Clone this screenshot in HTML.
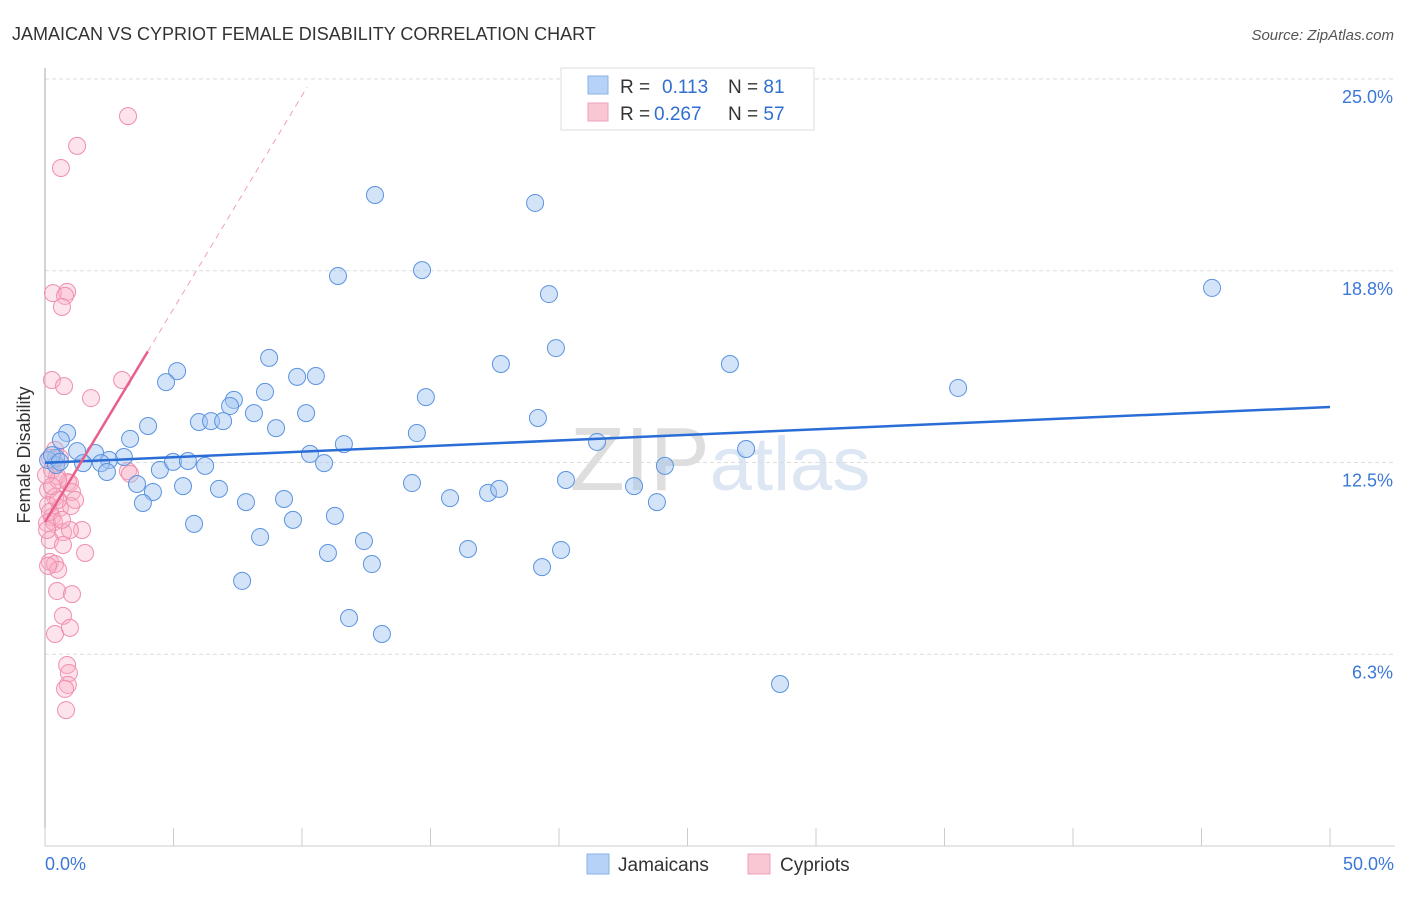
<!DOCTYPE html>
<html><head><meta charset="utf-8"><style>
body{margin:0;background:#fff;font-family:"Liberation Sans",sans-serif;}
svg text{font-family:"Liberation Sans",sans-serif;}
</style></head><body>
<svg width="1406" height="892" viewBox="0 0 1406 892" id="chart">
<text x="12" y="40" font-size="18" fill="#333">JAMAICAN VS CYPRIOT FEMALE DISABILITY CORRELATION CHART</text>
<text x="1394" y="40" font-size="15" fill="#555" font-style="italic" text-anchor="end">Source: ZipAtlas.com</text>
<text x="720" y="490" font-size="90" fill="#e4e4e4" text-anchor="middle" font-family="Liberation Serif"><tspan fill="#dedede">ZIP</tspan><tspan fill="#dde6f3" font-family="Liberation Sans" font-size="76">atlas</tspan></text>
<g id="grid"></g>
<line x1="45" y1="68" x2="45" y2="846" stroke="#aaa"/>
<line x1="45" y1="846" x2="1395" y2="846" stroke="#ccc"/>
<g id="xticks"></g>
<text x="30" y="455" font-size="18" fill="#333" text-anchor="middle" transform="rotate(-90 30 455)">Female Disability</text>
<g id="pts"></g>
<g id="trends"></g>
<g>
<rect x="561" y="68" width="253" height="62" fill="#fff" stroke="#ddd"/>
<rect x="588" y="76" width="20" height="18" fill="#b6d2f6" stroke="#8ab2e8"/>
<rect x="588" y="103" width="20" height="18" fill="#f9c6d4" stroke="#f0a0b8"/>
<text x="620" y="93" font-size="19" fill="#333">R = <tspan fill="#2f6fd0" x="662">0.113</tspan><tspan x="728">N = </tspan><tspan fill="#2f6fd0">81</tspan></text>
<text x="620" y="120" font-size="19" fill="#333">R = <tspan fill="#2f6fd0" x="654">0.267</tspan><tspan x="728">N = </tspan><tspan fill="#2f6fd0">57</tspan></text>
</g>
<g>
<rect x="587" y="854" width="22" height="20" fill="#b6d2f6" stroke="#8ab2e8"/>
<text x="618" y="871" font-size="19" fill="#333">Jamaicans</text>
<rect x="748" y="854" width="22" height="20" fill="#f9c6d4" stroke="#f0a0b8"/>
<text x="780" y="871" font-size="19" fill="#333">Cypriots</text>
</g>
</svg>
<script>
const yTicks=[25.0,18.8,12.5,6.3];
const yTickVals=[25,18.75,12.5,6.25];
const xTickLabels=["0.0%","50.0%"];
const blueX=[12.84,19.07,14.67,11.40,19.61,45.41,19.88,8.72,17.74,26.65,5.14,9.81,10.54,4.71,35.53,8.56,14.82,7.35,7.20,8.13,10.16,19.18,5.99,6.46,6.93,4.01,8.99,14.47,0.86,0.62,3.31,11.63,21.48,27.28,1.25,1.95,10.31,3.07,2.49,0.43,0.12,0.43,1.48,4.47,4.98,5.56,6.23,10.86,24.12,2.18,2.41,3.58,4.20,5.37,6.77,14.28,20.27,22.92,9.30,15.76,17.24,17.67,3.81,7.82,23.81,5.80,9.65,11.28,8.37,12.41,16.46,11.01,20.08,12.72,19.34,7.67,11.83,13.11,28.60,0.27,0.58];
const blueY=[21.22,20.96,18.77,18.58,17.99,18.19,16.23,15.91,15.71,15.71,15.48,15.29,15.32,15.12,14.93,14.80,14.63,14.54,14.34,14.11,14.11,13.95,13.82,13.85,13.85,13.69,13.62,13.46,13.46,13.23,13.27,13.10,13.17,12.94,12.87,12.81,12.78,12.68,12.58,12.65,12.58,12.42,12.48,12.26,12.52,12.55,12.39,12.48,12.39,12.48,12.19,11.80,11.54,11.73,11.64,11.83,11.93,11.73,11.31,11.34,11.51,11.64,11.18,11.21,11.21,10.50,10.63,10.76,10.07,9.94,9.68,9.55,9.65,9.19,9.09,8.64,7.43,6.91,5.28,12.74,12.52];
const pinkX=[3.23,1.25,0.62,0.31,0.86,0.78,0.66,0.27,0.74,3.00,1.79,0.39,0.19,0.58,0.27,0.47,0.89,0.97,0.12,0.39,3.23,3.31,0.51,1.05,0.12,0.58,1.01,0.27,0.08,0.35,0.70,1.44,0.97,0.19,0.70,1.56,0.19,0.39,0.51,0.12,0.47,1.05,0.70,0.97,0.39,0.86,0.93,0.89,0.78,0.82,0.08,0.19,0.51,0.04,0.27,1.17,0.66];
const pinkY=[23.79,22.82,22.10,18.02,18.06,17.93,17.57,15.19,14.99,15.19,14.60,12.91,12.65,12.65,12.26,12.06,11.86,11.83,11.60,11.38,12.22,12.13,11.93,11.54,11.11,11.02,11.08,10.72,10.53,10.56,10.23,10.30,10.30,9.97,9.81,9.55,9.26,9.19,9.00,9.13,8.31,8.21,7.50,7.11,6.91,5.90,5.64,5.25,5.12,4.43,10.30,10.89,11.28,12.09,11.73,11.28,10.63];
const blueTrend=[12.49,14.31];
const pinkTrend=[10.56,1.39];

const X=v=>45+v/50*1285;
const Y=v=>846-v/25*767;
const NS="http://www.w3.org/2000/svg";
function mk(tag,attrs,parent){const e=document.createElementNS(NS,tag);for(const k in attrs)e.setAttribute(k,attrs[k]);parent.appendChild(e);return e;}
const grid=document.getElementById('grid');
yTickVals.forEach((v,i)=>{
  const l=mk('line',{x1:45,x2:1395,y1:Y(v),y2:Y(v),stroke:'#ddd','stroke-dasharray':'4,3'},grid);
  
  
  const t=mk('text',{x:1393,y:Y(v)+24,'font-size':18,fill:'#3b78d8','text-anchor':'end'},grid);
  t.textContent=yTicks[i].toFixed(1)+'%';
  
  
});
const xt=document.getElementById('xticks');
for(let i=0;i<=10;i++){
  const l=mk('line',{x1:X(i*5),x2:X(i*5),y1:828,y2:846,stroke:'#ccc'},xt);
  
  
}
xTickLabels.forEach((s,i)=>{
  const t=mk('text',{x:i?1394:45,y:870,'font-size':18,fill:'#3b78d8','text-anchor':i?'end':'start'},xt);
  t.textContent=s;
  
  
});
const pts=document.getElementById('pts');
pinkX.forEach((v,i)=>{
  const c=mk('circle',{cx:X(v),cy:Y(pinkY[i]),r:8.5,fill:'rgba(248,175,198,0.35)',stroke:'#f08fae','stroke-width':1},pts);
  
  
});
blueX.forEach((v,i)=>{
  const c=mk('circle',{cx:X(v),cy:Y(blueY[i]),r:8.5,fill:'rgba(160,196,240,0.45)',stroke:'#5b93e0','stroke-width':1},pts);
  
  
});
const tr=document.getElementById('trends');
const bl=mk('line',{x1:X(0),y1:Y(blueTrend[0]),x2:X(50),y2:Y(blueTrend[1]),stroke:'#2a6dd6','stroke-width':2.5},tr);


const pl=mk('line',{x1:X(0),y1:Y(pinkTrend[0]),x2:X(4),y2:Y(pinkTrend[0]+4*pinkTrend[1]),stroke:'#e8608a','stroke-width':2.5},tr);


const pd=mk('line',{x1:X(4),y1:Y(pinkTrend[0]+4*pinkTrend[1]),x2:X(10.2),y2:Y(pinkTrend[0]+10.2*pinkTrend[1]),stroke:'#f0a0b8','stroke-width':1,'stroke-dasharray':'6,5'},tr);


</script>
</body></html>
